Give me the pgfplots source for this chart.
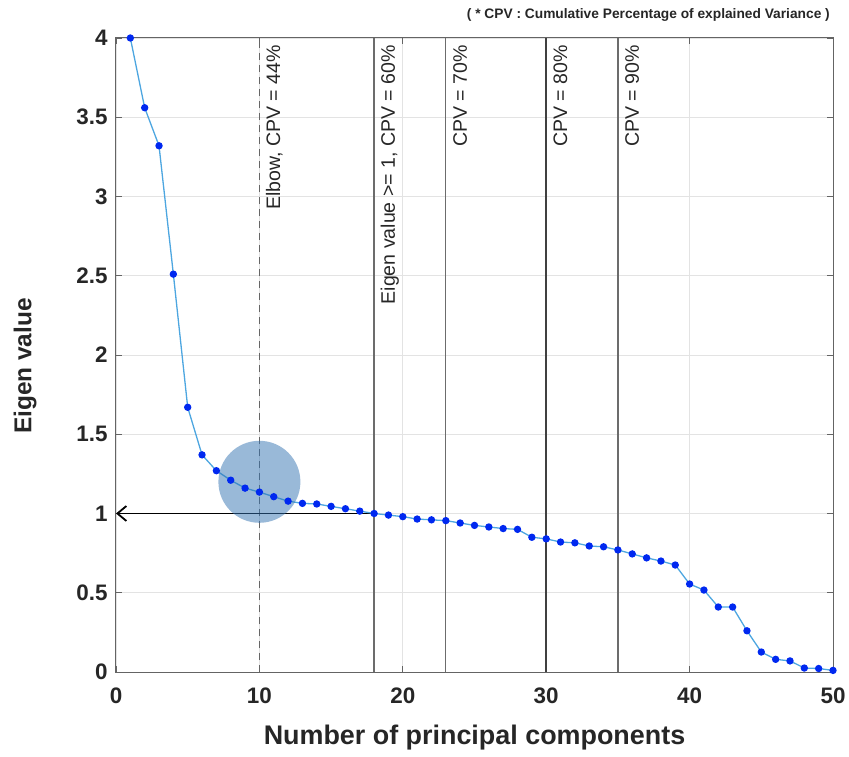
\documentclass[border=0pt]{standalone}
\usepackage{pgfplots}
\pgfplotsset{compat=1.18}
\usetikzlibrary{arrows.meta}
\usepackage{fontspec}
\setmainfont{Liberation Sans}
\definecolor{linecol}{RGB}{77,166,224}
\definecolor{markcol}{RGB}{0,40,240}
\definecolor{circcol}{RGB}{51,115,178}
\definecolor{axcol}{RGB}{100,100,100}
\begin{document}
\begin{tikzpicture}
\begin{axis}[
  scale only axis,
  width=717bp, height=634bp,
  xmin=0, xmax=50, ymin=0, ymax=4,
  xtick={0,10,...,50},
  ytick={0,0.5,...,4},
  yticklabels={0,0.5,1,1.5,2,2.5,3,3.5,4},
  /pgf/number format/assume math mode=true,
  ticklabel style={font=\fontsize{22.5}{26}\selectfont\bfseries, text=black!85},
  xticklabel style={yshift=-12bp},
  yticklabel style={xshift=-5bp},
  tick align=inside,
  major tick length=6bp,
  tick style={axcol, line width=0.8bp},
  axis line style={axcol, line width=1bp},
  grid=major,
  grid style={gray!22, line width=0.8bp},
  xlabel={Number of principal components},
  ylabel={Eigen value},
  xlabel style={font=\fontsize{27}{30}\selectfont\bfseries, text=black!85, at={([yshift=-66bp]axis description cs:0.5,0)}, anchor=center},
  ylabel style={font=\fontsize{24.5}{28}\selectfont\bfseries, text=black!85, at={([xshift=-91bp,yshift=-11bp]axis description cs:0,0.5)}, anchor=center},
  clip=false,
]
% vertical reference lines
\addplot[gray!80!black, line width=1.3bp, dash pattern=on 7bp off 5bp] coordinates {(10,0) (10,4)};
\addplot[gray!85!black, line width=1.3bp] coordinates {(18,0) (18,4)};
\addplot[gray!85!black, line width=1.3bp] coordinates {(23,0) (23,4)};
\addplot[black!75, line width=1.9bp] coordinates {(30,0) (30,4)};
\addplot[gray!85!black, line width=1.3bp] coordinates {(35,0) (35,4)};
% arrow
\addplot[black, line width=1.8bp, -{Straight Barb[length=9bp,width=15bp]}] coordinates {(18,1) (0,1)};
% circle
\addplot[only marks, mark=*, mark size=41bp, mark options={draw opacity=0, fill=circcol, fill opacity=0.5}] coordinates {(10,1.2)};
% data
\addplot[linecol, line width=1.3bp, mark=*, mark size=3bp, mark options={draw=markcol, fill=markcol}] coordinates {
(1,4.00) (2,3.56) (3,3.32) (4,2.51) (5,1.67) (6,1.37) (7,1.27) (8,1.21) (9,1.16) (10,1.135)
(11,1.106) (12,1.078) (13,1.064) (14,1.06) (15,1.045) (16,1.03) (17,1.015) (18,1.00) (19,0.99) (20,0.98)
(21,0.965) (22,0.96) (23,0.955) (24,0.94) (25,0.925) (26,0.915) (27,0.905) (28,0.90) (29,0.85) (30,0.84)
(31,0.82) (32,0.815) (33,0.795) (34,0.79) (35,0.77) (36,0.745) (37,0.72) (38,0.70) (39,0.675) (40,0.555)
(41,0.517) (42,0.41) (43,0.41) (44,0.26) (45,0.126) (46,0.08) (47,0.07) (48,0.025) (49,0.022) (50,0.01)
};
% labels
\tikzset{vlab/.style={rotate=90, anchor=north east, font=\fontsize{19.6}{22}\selectfont, text=black!85, inner sep=0pt}}
\node[vlab] at (axis cs:10.45,3.955) {Elbow, CPV = 44\%};
\node[vlab] at (axis cs:18.45,3.955) {Eigen value >= 1, CPV = 60\%};
\node[vlab] at (axis cs:23.5,3.955) {CPV = 70\%};
\node[vlab] at (axis cs:30.5,3.955) {CPV = 80\%};
\node[vlab] at (axis cs:35.5,3.955) {CPV = 90\%};
\node[anchor=south east, font=\fontsize{13.8}{16}\selectfont\bfseries, text=black!85, inner sep=0pt] at ([yshift=16bp,xshift=-3bp]rel axis cs:1,1) {( * CPV : Cumulative Percentage of explained Variance )};
% bounding box
\path ([xshift=-116bp,yshift=-85bp]rel axis cs:0,0) ([xshift=16bp,yshift=38bp]rel axis cs:1,1);
\end{axis}
\end{tikzpicture}
\end{document}
